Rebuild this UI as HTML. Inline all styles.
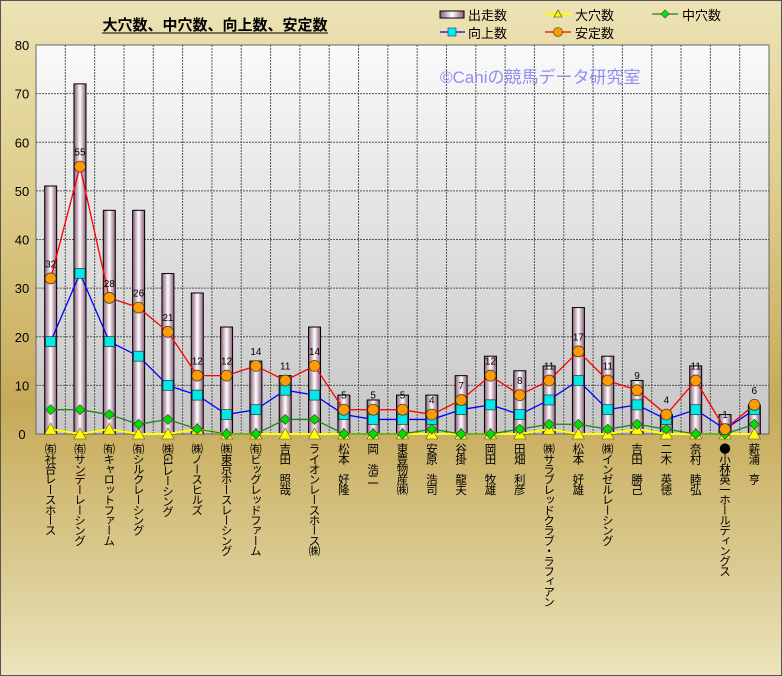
<!DOCTYPE html>
<html><head><meta charset="utf-8"><style>
body{margin:0;width:782px;height:676px;overflow:hidden;font-family:"Liberation Sans","Noto Sans CJK JP",sans-serif}
#bg{position:absolute;left:0;top:0;width:780px;height:674px;border:1px solid #555;
background:linear-gradient(180deg,#ece2b4 0%,#e0d090 25%,#c6aa58 60%,#dccc94 85%,#ece4bc 100%)}
.lab{position:absolute;top:443px;writing-mode:vertical-rl;font-size:11.5px;letter-spacing:-1.3px;color:#000;line-height:13px;white-space:nowrap;font-family:"Noto Sans CJK JP","Liberation Sans",sans-serif}
</style></head><body><div id="bg"></div>
<svg id="c" width="782" height="676" style="position:absolute;left:0;top:0"></svg>
<div id="labs"></div>
<script>
const s=document.getElementById('c');
const X0=36,X1=769,Y0=434,k=4.8625,N=25,cw=(X1-X0)/N;
const run=[51,72,46,46,33,29,22,15,12,22,8,7,8,8,12,16,13,14,26,16,11,4,14,4,6];
const ant=[32,55,28,26,21,12,12,14,11,14,5,5,5,4,7,12,8,11,17,11,9,4,11,1,6];
const up=[19,33,19,16,10,8,4,5,9,8,4,3,3,3,5,6,4,7,11,5,6,3,5,1,5];
const mid=[5,5,4,2,3,1,0,0,3,3,0,0,0,1,0,0,1,2,2,1,2,1,0,0,2];
const big=[1,0,1,0,0,1,0,0,0,0,0,0,0,0,0,0,0,1,0,0,1,0,0,0,0];
const names=["㈲社台レースホース","㈲サンデーレーシング","㈲キャロットファーム","㈲シルクレーシング","㈱G1レーシング","㈱ノースヒルズ","㈱東京ホースレーシング","㈲ビッグレッドファーム","吉田　照哉","ライオンレースホース㈱","松本　好隆","岡　浩二","東豊物産㈱","安原　浩司","谷掛　龍夫","岡田　牧雄","田畑　利彦","㈱サラブレッドクラブ・ラフィアン","松本　好雄","㈱インゼルレーシング","吉田　勝己","二木　英徳","奈村　睦弘","●小林英一ホールディングス","薪浦　亨"];
let h=`<defs><linearGradient id="pg" x1="0" y1="0" x2="0" y2="1"><stop offset="0" stop-color="#fafafa"/><stop offset="1" stop-color="#c6c6c6"/></linearGradient>
<linearGradient id="bg2" x1="0" y1="0" x2="1" y2="0"><stop offset="0" stop-color="#8a5a78"/><stop offset=".5" stop-color="#fff"/><stop offset="1" stop-color="#8a5a78"/></linearGradient></defs>
<rect x="${X0}" y="45" width="${X1-X0}" height="389" fill="url(#pg)" stroke="#666"/>`;
const cx=i=>X0+cw*(i+.5), Y=v=>Y0-v*k;
for(let v=10;v<80;v+=10)h+=`<line x1="${X0}" x2="${X1}" y1="${Y(v)}" y2="${Y(v)}" stroke="#555" stroke-dasharray="2,1"/>`;
for(let i=1;i<N;i++){let x=X0+cw*i;h+=`<line x1="${x}" x2="${x}" y1="45" y2="434" stroke="#555" stroke-dasharray="2,1"/>`;}
for(let v=0;v<=80;v+=10)h+=`<text x="22" y="${Y(v)+5}" font-size="13" text-anchor="middle">${v}</text>`;
h+=`<text x="215" y="30" font-size="15" font-weight="bold" text-anchor="middle" font-family="Noto Sans CJK JP,sans-serif">大穴数、中穴数、向上数、安定数</text><line x1="102" x2="328" y1="33" y2="33" stroke="#000"/>`;
h+=`<text x="440" y="83" font-size="17" fill="#8f8ff0" font-family="Liberation Sans,Noto Sans CJK JP,sans-serif">©Caniの競馬データ研究室</text>`;
for(let i=0;i<N;i++)h+=`<rect x="${cx(i)-6}" y="${Y(run[i])}" width="12" height="${run[i]*k}" fill="url(#bg2)" stroke="#000"/>`;
const line=(a,c,w)=>`<polyline fill="none" stroke="${c}" stroke-width="${w}" points="${a.map((v,i)=>cx(i)+','+Y(v)).join(' ')}"/>`;
h+=line(big,'#ffff00',2)+line(mid,'#208020',1.3)+line(up,'#0000ff',1.3)+line(ant,'#ff0000',1.3);
for(let i=0;i<N;i++){let x=cx(i);
h+=`<polygon points="${x},${Y(big[i])-6} ${x-6},${Y(big[i])+5} ${x+6},${Y(big[i])+5}" fill="#ffff00" stroke="#555" stroke-width=".6"/>`;
h+=`<polygon points="${x},${Y(mid[i])-5} ${x+5},${Y(mid[i])} ${x},${Y(mid[i])+5} ${x-5},${Y(mid[i])}" fill="#00e000" stroke="#333" stroke-width=".6"/>`;
h+=`<rect x="${x-5}" y="${Y(up[i])-5}" width="10" height="10" fill="#00e8e8" stroke="#333" stroke-width=".7"/>`;
h+=`<circle cx="${x}" cy="${Y(ant[i])}" r="5.5" fill="#ff9a00" stroke="#333" stroke-width=".7"/>`;
h+=`<text x="${x}" y="${Y(ant[i])-11}" font-size="10" text-anchor="middle">${ant[i]}</text>`;}
h+=`<g font-size="13" font-family="Noto Sans CJK JP,sans-serif">
<rect x="440" y="11" width="24" height="7" fill="url(#bg2)" stroke="#000"/><text x="468" y="20">出走数</text>
<line x1="545" x2="571" y1="14" y2="14" stroke="#ff0" stroke-width="2"/><polygon points="558,10 554,17 562,17" fill="#ff0" stroke="#333" stroke-width=".6"/><text x="575" y="20">大穴数</text>
<line x1="652" x2="678" y1="14" y2="14" stroke="#208020" stroke-width="1.3"/><polygon points="665,10 669,14 665,18 661,14" fill="#0e0" stroke="#333" stroke-width=".6"/><text x="682" y="20">中穴数</text>
<line x1="440" x2="465" y1="32" y2="32" stroke="#00f" stroke-width="1.3"/><rect x="448" y="28" width="8" height="8" fill="#0ee" stroke="#333" stroke-width=".6"/><text x="468" y="38">向上数</text>
<line x1="545" x2="571" y1="32" y2="32" stroke="#f00" stroke-width="1.3"/><circle cx="558" cy="32" r="4.5" fill="#f90" stroke="#333" stroke-width=".6"/><text x="575" y="38">安定数</text></g>`;
s.innerHTML=h;
let L='';for(let i=0;i<N;i++)L+=`<div class="lab" style="left:${cx(i)-7}px">${names[i]}</div>`;
document.getElementById('labs').innerHTML=L;
</script></body></html>
